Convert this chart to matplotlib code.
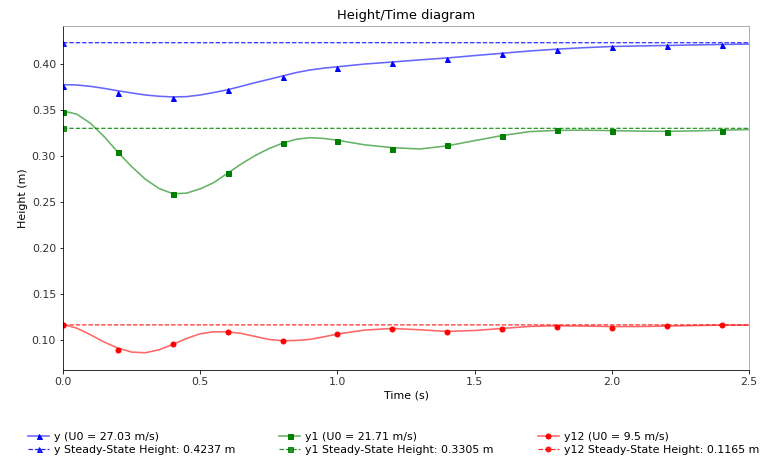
import numpy as np
import matplotlib
matplotlib.use("Agg")
import matplotlib.pyplot as plt
from matplotlib.lines import Line2D
from matplotlib.legend_handler import HandlerTuple

# ---- data ----
t_curve = [0.0, 0.05, 0.1, 0.15, 0.2, 0.25, 0.3, 0.35, 0.4, 0.45, 0.5, 0.55, 0.6,
           0.65, 0.7, 0.75, 0.8, 0.85, 0.9, 0.95, 1.0, 1.1, 1.2, 1.3, 1.4, 1.5,
           1.6, 1.7, 1.8, 1.9, 2.0, 2.1, 2.2, 2.3, 2.4, 2.5]

y_curve = [0.3780, 0.3777, 0.3762, 0.3740, 0.3714, 0.3690, 0.3668, 0.3654, 0.3647,
           0.3650, 0.3668, 0.3695, 0.3725, 0.3763, 0.3802, 0.3838, 0.3875, 0.3912,
           0.3940, 0.3960, 0.3975, 0.4005, 0.4027, 0.4050, 0.4071, 0.4097, 0.4122,
           0.4147, 0.4167, 0.4183, 0.4196, 0.4202, 0.4207, 0.4213, 0.4218, 0.4222]

y1_curve = [0.3494, 0.3460, 0.3360, 0.3215, 0.3045, 0.2889, 0.2751, 0.2650, 0.2593,
            0.2599, 0.2646, 0.2715, 0.2817, 0.2918, 0.3008, 0.3084, 0.3143, 0.3186,
            0.3203, 0.3195, 0.3175, 0.3125, 0.3095, 0.3080, 0.3114, 0.3171, 0.3226,
            0.3269, 0.3283, 0.3285, 0.3280, 0.3275, 0.3272, 0.3277, 0.3285, 0.3292]

y12_curve = [0.1170, 0.1130, 0.1058, 0.0978, 0.0913, 0.0869, 0.0862, 0.0894, 0.0952,
             0.1017, 0.1069, 0.1090, 0.1090, 0.1072, 0.1039, 0.1007, 0.0992, 0.0996,
             0.1007, 0.1035, 0.1065, 0.1109, 0.1126, 0.1112, 0.1094, 0.1104, 0.1126,
             0.1148, 0.1156, 0.1152, 0.1147, 0.1147, 0.1152, 0.1158, 0.1162, 0.1163]

t_mark = [0.0, 0.2, 0.4, 0.6, 0.8, 1.0, 1.2, 1.4, 1.6, 1.8, 2.0, 2.2, 2.4]
y_mark = [0.3770, 0.3690, 0.3630, 0.3726, 0.3868, 0.3966, 0.4016, 0.4064, 0.4115,
          0.4162, 0.4191, 0.4202, 0.4213]
y1_mark = [0.3480, 0.3045, 0.2595, 0.2823, 0.3143, 0.3168, 0.3081, 0.3119, 0.3226,
           0.3282, 0.3280, 0.3265, 0.3279]
y12_mark = [0.1163, 0.0891, 0.0956, 0.1083, 0.0989, 0.1061, 0.1120, 0.1083, 0.1120,
            0.1145, 0.1134, 0.1148, 0.1159]

steady = [0.4237, 0.3305, 0.1165]
u0 = [27.03, 21.71, 9.5]
names = ["y", "y1", "y12"]
colors = ["blue", "green", "red"]
markers = ["^", "s", "o"]
curves = [y_curve, y1_curve, y12_curve]
marks = [y_mark, y1_mark, y12_mark]

# ---- figure ----
fig = plt.figure(figsize=(761 / 72, 463 / 72), dpi=72)
ax = fig.add_axes([63 / 761, 1 - 370 / 463, (749 - 63) / 761, (370 - 26) / 463])

handles, labels = [], []
for name, c, m, yc, ym, ss, u in zip(names, colors, markers, curves, marks, steady, u0):
    ln, = ax.plot(t_curve, yc, color=c, alpha=0.6, lw=1.6)
    mk, = ax.plot(t_mark, ym, color=c, marker=m, ms=5, ls="none")
    ax.axhline(ss, color=c, ls="--", lw=1.2, marker=m, ms=5, markevery=[0],
               snap=False, alpha=0.85)
    proxy = Line2D([], [], color=c, ls="--", lw=1.2, marker=m, ms=5, alpha=0.85)
    handles += [(ln, mk), proxy]
    labels += [f"{name} (U0 = {u} m/s)", f"{name} Steady-State Height: {ss} m"]

ax.set_xlim(0, 2.5)
ax.set_ylim(0.0674, 0.4419)
ax.set_xticks([0.0, 0.5, 1.0, 1.5, 2.0, 2.5])
ax.set_yticks([0.10, 0.15, 0.20, 0.25, 0.30, 0.35, 0.40])
ax.tick_params(labelsize=11, labelcolor="#333333")
for s in ["top", "right"]:
    ax.spines[s].set_color("#9a9a9a")

ax.set_title("Height/Time diagram", fontsize=13, pad=7)
ax.set_xlabel("Time (s)", fontsize=11)
ax.set_ylabel("Height (m)", fontsize=11)

ax.legend(handles, labels, loc="upper center", bbox_to_anchor=(0.482, -0.15),
          ncol=3, frameon=False, fontsize=11, columnspacing=4.0,
          handlelength=1.9, handletextpad=0.45, labelspacing=0.3,
          handler_map={tuple: HandlerTuple(ndivide=1)})

fig.savefig("out.png", dpi=72)
